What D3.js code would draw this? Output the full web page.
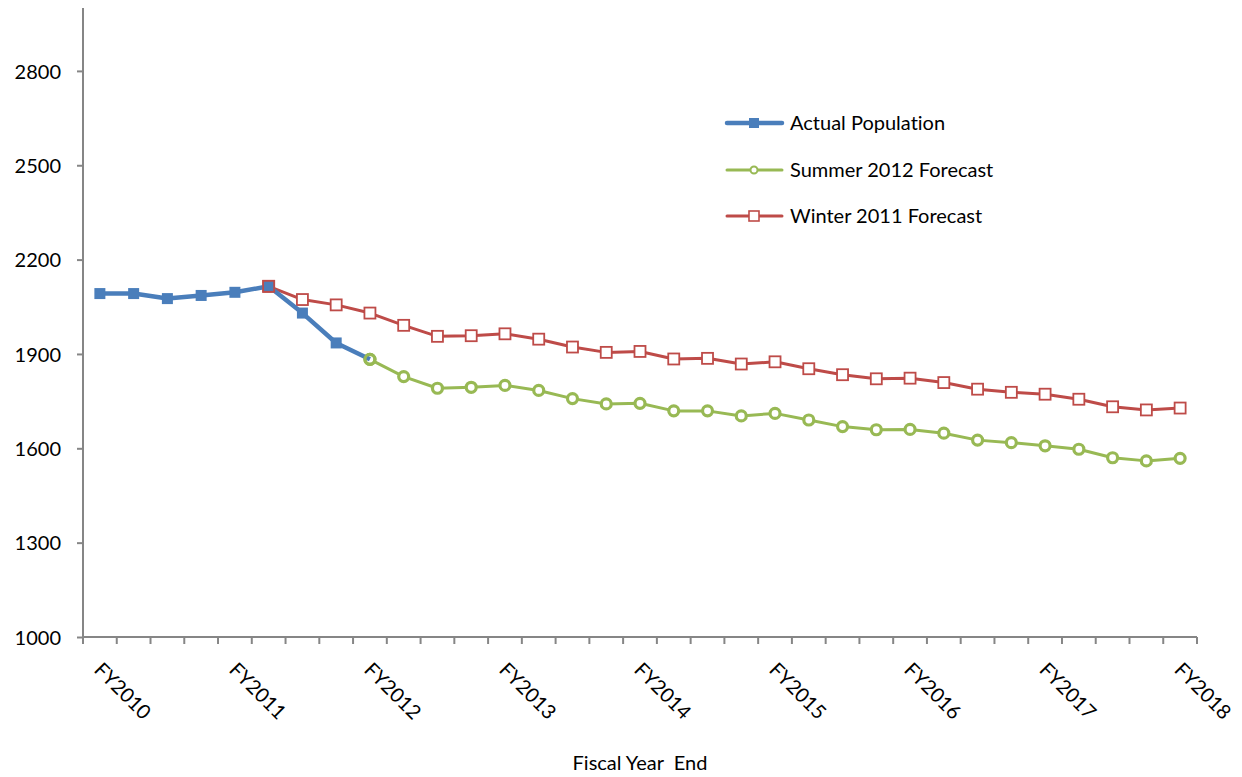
<!DOCTYPE html>
<html><head><meta charset="utf-8">
<script src="https://cdn.jsdelivr.net/npm/d3@7"></script>
<style>body{margin:0;background:#fff}svg{display:block}text{font-family:Lato,"Open Sans",sans-serif;fill:#000;font-variant-ligatures:none;font-feature-settings:"liga" 0,"clig" 0}</style>
</head><body><svg id="c" width="1242" height="777"></svg>
<script>
// 33 quarterly periods; every 4th one is labelled with its fiscal year
const periodCount = 33;
const yearLabels = ["FY2010","FY2011","FY2012","FY2013","FY2014","FY2015","FY2016","FY2017","FY2018"];
const yTicks = [1000,1300,1600,1900,2200,2500,2800];
// [period index, value]
const actualPopulation = [[0,2092],[1,2092],[2,2076],[3,2086],[4,2096],[5,2115],[6,2030],[7,1935],[8,1883]];
const summer2012 = [[8,1883],[9,1828],[10,1791],[11,1794],[12,1800],[13,1784],[14,1758],[15,1741],[16,1743],[17,1719],[18,1719],[19,1703],[20,1711],[21,1690],[22,1669],[23,1659],[24,1660],[25,1648],[26,1626],[27,1618],[28,1608],[29,1597],[30,1570],[31,1560],[32,1568]];
const winter2011 = [[5,2115],[6,2073],[7,2056],[8,2030],[9,1991],[10,1956],[11,1958],[12,1964],[13,1947],[14,1922],[15,1905],[16,1908],[17,1884],[18,1886],[19,1868],[20,1875],[21,1853],[22,1834],[23,1821],[24,1823],[25,1809],[26,1788],[27,1778],[28,1772],[29,1756],[30,1732],[31,1722],[32,1728]];
const seriesNames = ["Actual Population","Summer 2012 Forecast","Winter 2011 Forecast"];

const svg = d3.select("#c");
const L = 83, R = 1197, T = 8, B = 637;
const FS = 20;
const x = d3.scaleBand().domain(d3.range(periodCount)).range([L, R]);
const xc = i => x(i) + x.bandwidth()/2;
const y = d3.scaleLinear().domain([1000, 3000]).range([B, T]);
const axisCol = "#868686";

// y axis
const ya = svg.append("g").attr("transform", `translate(${L},0)`)
  .call(d3.axisLeft(y).tickValues(yTicks).tickSize(6).tickPadding(16).tickFormat(d3.format("d")));
ya.select(".domain").attr("stroke", axisCol).attr("stroke-width", 2).attr("d", `M0,${B}V${T}`);
ya.selectAll(".tick line").attr("stroke", axisCol).attr("stroke-width", 2);
ya.selectAll(".tick text").attr("font-size", FS).attr("font-family", "Lato").attr("fill", "#000").attr("dy", "0.36em");

// x axis (ticks at band boundaries)
const xg = svg.append("g").attr("transform", `translate(0,${B})`);
xg.append("line").attr("x1", L).attr("x2", R).attr("stroke", axisCol).attr("stroke-width", 2);
xg.selectAll("line.t").data(d3.range(periodCount + 1)).join("line").attr("class", "t")
  .attr("x1", i => L + i * x.step()).attr("x2", i => L + i * x.step())
  .attr("y1", 0).attr("y2", 7).attr("stroke", axisCol).attr("stroke-width", 2);
xg.selectAll("text.l").data(yearLabels).join("text").attr("class", "l")
  .attr("transform", (d, k) => `translate(${xc(k * 4) - 2},${29}) rotate(45)`)
  .attr("text-anchor", "start").attr("dy", "0.35em").attr("font-size", FS).text(d => d);

svg.append("text").attr("x", 640).attr("y", 770).attr("text-anchor", "middle")
  .attr("font-size", FS).attr("xml:space", "preserve").text("Fiscal Year  End");

const line = d3.line().x(d => xc(d[0])).y(d => y(d[1]));
const blue = "#4A7EBB", green = "#98B954", red = "#BE4B48";

// Winter 2011
svg.append("path").datum(winter2011).attr("d", line).attr("fill", "none").attr("stroke", red).attr("stroke-width", 3).attr("stroke-linejoin", "round");
svg.selectAll("rect.w").data(winter2011).join("rect").attr("class", "w")
  .attr("x", d => xc(d[0]) - 5.5).attr("y", d => y(d[1]) - 5.5).attr("width", 11).attr("height", 11)
  .attr("fill", "#fff").attr("stroke", red).attr("stroke-width", 1.8);
// Summer 2012
svg.append("path").datum(summer2012).attr("d", line).attr("fill", "none").attr("stroke", green).attr("stroke-width", 3).attr("stroke-linejoin", "round");
svg.selectAll("circle.s").data(summer2012).join("circle").attr("class", "s")
  .attr("cx", d => xc(d[0])).attr("cy", d => y(d[1])).attr("r", 5)
  .attr("fill", "#fff").attr("stroke", green).attr("stroke-width", 3.2);
// Actual
svg.append("path").datum(actualPopulation).attr("d", line).attr("fill", "none").attr("stroke", blue).attr("stroke-width", 4.5).attr("stroke-linejoin", "round");
svg.selectAll("rect.a").data(actualPopulation.slice(0, 8)).join("rect").attr("class", "a")
  .attr("x", d => xc(d[0]) - 5.5).attr("y", d => y(d[1]) - 5.5).attr("width", 11).attr("height", 11)
  .attr("fill", blue);
// shared points: forecast markers drawn on top as in the reference
svg.append("rect").datum(winter2011[0]).attr("x", d => xc(d[0]) - 5.5).attr("y", d => y(d[1]) - 5.5).attr("width", 11).attr("height", 11)
  .attr("fill", "none").attr("stroke", red).attr("stroke-width", 1.8);
svg.append("circle").datum(summer2012[0]).attr("cx", d => xc(d[0])).attr("cy", d => y(d[1])).attr("r", 5)
  .attr("fill", "none").attr("stroke", green).attr("stroke-width", 3.2);

// legend
const lg = svg.append("g");
const ly = [123, 170, 216];
const styles = [
  {c: blue, w: 4.5, m: "fsq"},
  {c: green, w: 3, m: "circ"},
  {c: red, w: 3, m: "osq"}];
seriesNames.forEach((n, i) => {
  const s = styles[i];
  lg.append("line").attr("x1", 727).attr("x2", 782).attr("y1", ly[i]).attr("y2", ly[i])
    .attr("stroke", s.c).attr("stroke-width", s.w).attr("stroke-linecap", "round");
  if (s.m === "fsq") lg.append("rect").attr("x", 749).attr("y", ly[i] - 5).attr("width", 10).attr("height", 10).attr("fill", s.c);
  if (s.m === "circ") lg.append("circle").attr("cx", 754).attr("cy", ly[i]).attr("r", 3.5).attr("fill", "#fff").attr("stroke", s.c).attr("stroke-width", 2);
  if (s.m === "osq") lg.append("rect").attr("x", 749).attr("y", ly[i] - 5).attr("width", 10).attr("height", 10).attr("fill", "#fff").attr("stroke", s.c).attr("stroke-width", 1.6);
  lg.append("text").attr("x", 790).attr("y", ly[i]).attr("dy", "0.35em").attr("font-size", FS).text(n);
});
</script></body></html>
